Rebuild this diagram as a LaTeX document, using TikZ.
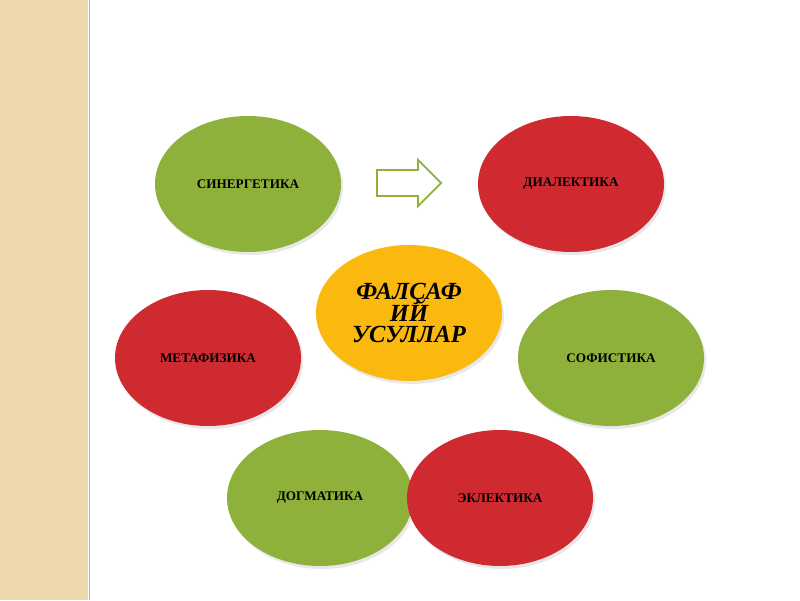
\documentclass[tikz,border=0pt]{standalone}
\usepackage{fontspec}
\setmainfont{Liberation Serif}
\usepackage{tikz}
\usetikzlibrary{shapes.geometric, shadows}
\definecolor{leafgreen}{HTML}{8DB13B}
\definecolor{brickred}{HTML}{D02A31}
\definecolor{sunorange}{HTML}{FBB80F}
\definecolor{paperbeige}{HTML}{EED9AF}
\tikzset{methodnode/.style={ellipse, minimum width=3.72cm, minimum height=2.72cm, inner sep=0pt,
    font=\fontsize{7.5}{9}\selectfont\bfseries,
    drop shadow={opacity=0.18, shadow xshift=0.04cm, shadow yshift=-0.06cm}},
  greennode/.style={methodnode, fill=leafgreen},
  rednode/.style={methodnode, fill=brickred}}

\begin{document}
\begin{tikzpicture}

\useasboundingbox (0,0) rectangle (16,12);

% page strip
\fill [paperbeige] (0,0) rectangle (1.76,12);
\draw [black!30, line width=0.6pt] (1.79,0) -- (1.79,12);

% nodes
\node [style = greennode] (syn) at (4.96, 8.32) {СИНЕРГЕТИКА};
\node [style = rednode] (dia) at (11.42, 8.32) {ДИАЛЕКТИКА};
\node [style = rednode] (meta) at (4.16, 4.84) {МЕТАФИЗИКА};
\node [style = greennode] (sof) at (12.22, 4.84) {СОФИСТИКА};
\node [style = greennode] (dog) at (6.40, 2.04) {ДОГМАТИКА};
\node [style = rednode] (ekl) at (10.00, 2.04) {ЭКЛЕКТИКА};
\node [style = methodnode, fill=sunorange, align=center,
  font={\fontsize{14}{12}\selectfont\bfseries\itshape\setlength{\lineskiplimit}{-20pt}}] (core) at (8.18, 5.74)
  {ФАЛҪАФ\\ИЙ\\УСУЛЛАР};

% arrow
\draw [leafgreen, line width=1pt, fill=white, line join=miter]
  (7.54, 8.08) -- (8.36, 8.08) -- (8.36, 7.88) -- (8.82, 8.34)
  -- (8.36, 8.80) -- (8.36, 8.60) -- (7.54, 8.60) -- cycle;

\end{tikzpicture}
\end{document}
